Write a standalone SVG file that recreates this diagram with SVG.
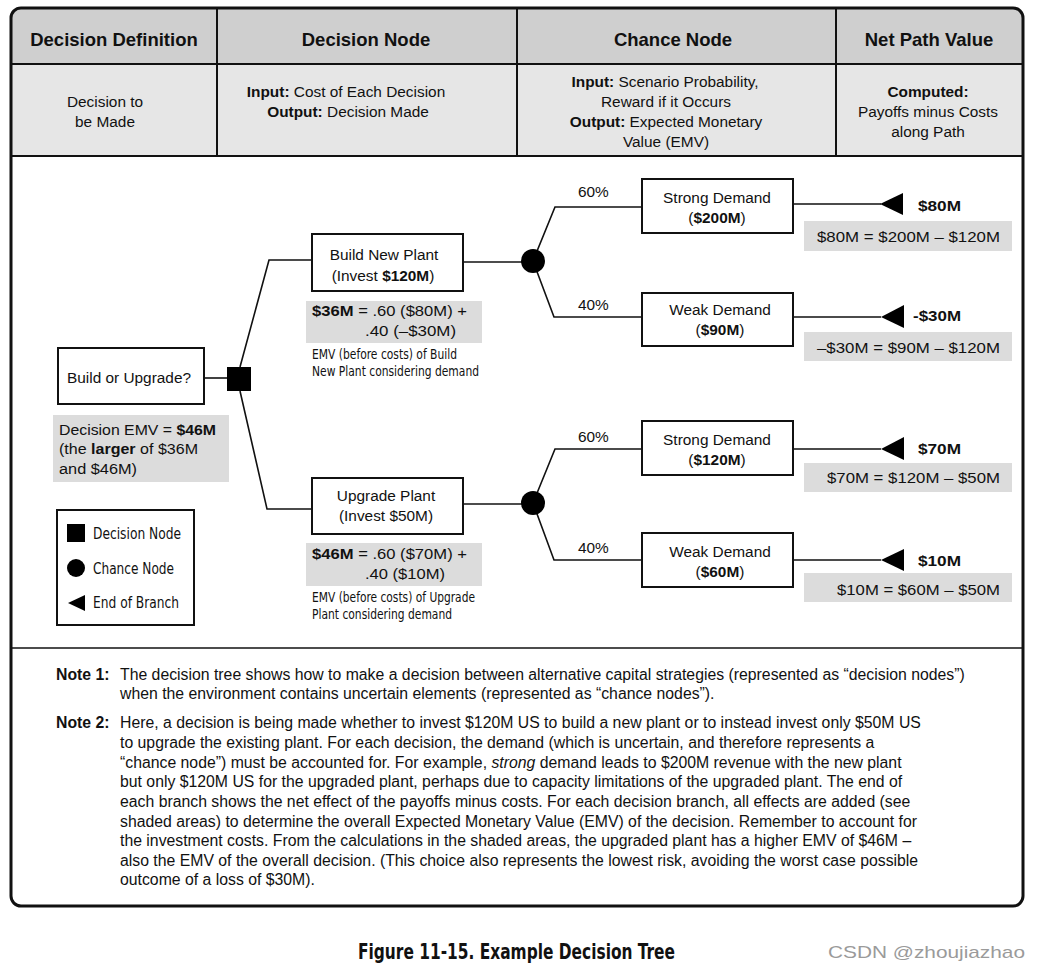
<svg xmlns="http://www.w3.org/2000/svg" width="1041" height="972" viewBox="0 0 1041 972">
<style>
text{font-family:"Liberation Sans",Arial,sans-serif;fill:#111;}
.h{font-size:18.5px;font-weight:bold;text-anchor:middle;}
.s{font-size:15.4px;text-anchor:middle;}
.b{font-weight:bold;}
.t{font-size:15.4px;}
.c{font-family:"Liberation Sans Narrow","DejaVu Sans Condensed","Liberation Sans",sans-serif;font-size:14.5px;}
.lg{font-family:"Liberation Sans Narrow","DejaVu Sans Condensed","Liberation Sans",sans-serif;font-size:16px;}
.box{fill:#fff;stroke:#111;stroke-width:2;}
.gray{fill:#dcdcdc;}
.ln{fill:none;stroke:#111;stroke-width:1.6;}
.n{font-size:15.8px;}
</style>
<rect width="1041" height="972" fill="#fff"/>
<g id="table">
<path d="M11,64 V18 Q11,8 21,8 H1013 Q1023,8 1023,18 V64 Z" fill="#cfcfcf"/>
<rect x="11" y="64" width="1012" height="92" fill="#e6e6e6"/>
<path d="M11,64 H1023 M11,156 H1023 M217,8 V156 M517,8 V156 M836,8 V156" stroke="#111" stroke-width="2" fill="none"/>
<line x1="11" y1="648" x2="1023" y2="648" stroke="#111" stroke-width="1.5"/>
<rect x="11" y="8" width="1012" height="898" rx="10" ry="10" fill="none" stroke="#111" stroke-width="3"/>
<text class="h" x="114" y="46">Decision Definition</text>
<text class="h" x="366" y="46">Decision Node</text>
<text class="h" x="673" y="46">Chance Node</text>
<text class="h" x="929" y="46">Net Path Value</text>
<text class="s" x="105" y="107">Decision to</text>
<text class="s" x="105" y="127">be Made</text>
<text class="s" x="346" y="97"><tspan class="b">Input:</tspan> Cost of Each Decision</text>
<text class="s" x="348" y="117"><tspan class="b">Output:</tspan> Decision Made</text>
<text class="s" x="665" y="87"><tspan class="b">Input:</tspan> Scenario Probability,</text>
<text class="s" x="666" y="107">Reward if it Occurs</text>
<text class="s" x="666" y="127"><tspan class="b">Output:</tspan> Expected Monetary</text>
<text class="s" x="666" y="147">Value (EMV)</text>
<text class="s b" x="928" y="97">Computed:</text>
<text class="s" x="928" y="117">Payoffs minus Costs</text>
<text class="s" x="928" y="137">along Path</text>
</g>
<g id="connectors">
<path class="ln" d="M205,378 H228"/>
<path class="ln" d="M240,367 L269,260 H312"/>
<path class="ln" d="M240,391 L267,509 H312"/>
<path class="ln" d="M463,262 H533"/>
<path class="ln" d="M463,504 H533"/>
<path class="ln" d="M533,261 L555,207 H642 M533,261 L554,317 H642"/>
<path class="ln" d="M533,503 L555,449 H642 M533,503 L554,560 H642"/>
<path class="ln" d="M793,204 H881 M793,317 H881 M793,449 H881 M793,560 H881"/>
<text class="t" x="578" y="197">60%</text>
<text class="t" x="578" y="310">40%</text>
<text class="t" x="578" y="442">60%</text>
<text class="t" x="578" y="553">40%</text>
</g>
<g id="root">
<rect class="box" x="58" y="348" width="146" height="56"/>
<text class="s" x="129" y="383">Build or Upgrade?</text>
</g>
<g id="decision">
<rect x="227" y="367" width="24" height="24" fill="#000"/>
</g>
<g id="decision-emv">
<rect class="gray" x="53" y="415" width="176" height="67"/>
<text class="t" x="59" y="435" textLength="157" lengthAdjust="spacingAndGlyphs">Decision EMV = <tspan class="b">$46M</tspan></text>
<text class="t" x="59" y="454" textLength="139" lengthAdjust="spacingAndGlyphs">(the <tspan class="b">larger</tspan> of $36M</text>
<text class="t" x="59" y="474" textLength="78" lengthAdjust="spacingAndGlyphs">and $46M)</text>
</g>
<g id="build">
<rect class="box" x="312" y="234" width="151" height="57"/>
<text class="s" x="384" y="260">Build New Plant</text>
<text class="s" x="383" y="281">(Invest <tspan class="b">$120M</tspan>)</text>
<rect class="gray" x="306" y="301" width="176" height="42"/>
<text class="t" x="312" y="316" textLength="155" lengthAdjust="spacingAndGlyphs"><tspan class="b">$36M</tspan> = .60 ($80M) +</text>
<text class="t" x="365" y="336" textLength="91" lengthAdjust="spacingAndGlyphs">.40 (–$30M)</text>
<text class="c" x="312" y="359" textLength="145" lengthAdjust="spacingAndGlyphs">EMV (before costs) of Build</text>
<text class="c" x="312" y="376" textLength="167" lengthAdjust="spacingAndGlyphs">New Plant considering demand</text>
</g>
<g id="upgrade">
<rect class="box" x="312" y="478" width="151" height="56"/>
<text class="s" x="386" y="501">Upgrade Plant</text>
<text class="s" x="386" y="521">(Invest $50M)</text>
<rect class="gray" x="306" y="543" width="176" height="43"/>
<text class="t" x="312" y="559" textLength="155" lengthAdjust="spacingAndGlyphs"><tspan class="b">$46M</tspan> = .60 ($70M) +</text>
<text class="t" x="365" y="579" textLength="80" lengthAdjust="spacingAndGlyphs">.40 ($10M)</text>
<text class="c" x="312" y="602" textLength="163" lengthAdjust="spacingAndGlyphs">EMV (before costs) of Upgrade</text>
<text class="c" x="312" y="619" textLength="140" lengthAdjust="spacingAndGlyphs">Plant considering demand</text>
</g>
<g id="chance1"><circle cx="533" cy="261" r="12" fill="#000"/></g>
<g id="chance2"><circle cx="533" cy="503" r="12" fill="#000"/></g>
<g id="strong1">
<rect class="box" x="642" y="179" width="151" height="54"/>
<text class="s" x="717" y="203">Strong Demand</text>
<text class="s" x="717" y="223">(<tspan class="b">$200M</tspan>)</text>
</g>
<g id="weak1">
<rect class="box" x="642" y="293" width="151" height="53"/>
<text class="s" x="720" y="315">Weak Demand</text>
<text class="s" x="720" y="335">(<tspan class="b">$90M</tspan>)</text>
</g>
<g id="strong2">
<rect class="box" x="642" y="421" width="151" height="54"/>
<text class="s" x="717" y="445">Strong Demand</text>
<text class="s" x="717" y="465">(<tspan class="b">$120M</tspan>)</text>
</g>
<g id="weak2">
<rect class="box" x="642" y="533" width="151" height="54"/>
<text class="s" x="720" y="557">Weak Demand</text>
<text class="s" x="720" y="577">(<tspan class="b">$60M</tspan>)</text>
</g>
<g id="end1">
<polygon points="880,204 903,193 903,215" fill="#000"/>
<text class="t b" x="918" y="211" textLength="43" lengthAdjust="spacingAndGlyphs">$80M</text>
<rect class="gray" x="804" y="221" width="208" height="30"/>
<text class="t" x="817" y="242" textLength="183" lengthAdjust="spacingAndGlyphs">$80M = $200M – $120M</text>
</g>
<g id="end2">
<polygon points="881,317 904,305 904,328" fill="#000"/>
<text class="t b" x="913" y="321" textLength="48" lengthAdjust="spacingAndGlyphs">-$30M</text>
<rect class="gray" x="804" y="332" width="208" height="29"/>
<text class="t" x="817" y="353" textLength="183" lengthAdjust="spacingAndGlyphs">–$30M = $90M – $120M</text>
</g>
<g id="end3">
<polygon points="881,449 904,437 904,460" fill="#000"/>
<text class="t b" x="918" y="454" textLength="43" lengthAdjust="spacingAndGlyphs">$70M</text>
<rect class="gray" x="804" y="463" width="208" height="29"/>
<text class="t" x="827" y="483" textLength="173" lengthAdjust="spacingAndGlyphs">$70M = $120M – $50M</text>
</g>
<g id="end4">
<polygon points="881,560 904,549 904,571" fill="#000"/>
<text class="t b" x="918" y="566" textLength="43" lengthAdjust="spacingAndGlyphs">$10M</text>
<rect class="gray" x="804" y="573" width="208" height="29"/>
<text class="t" x="837" y="595" textLength="163" lengthAdjust="spacingAndGlyphs">$10M = $60M – $50M</text>
</g>
<g id="legend">
<rect class="box" x="57" y="510" width="137" height="115"/>
<rect x="67" y="524" width="18" height="18" fill="#000"/>
<text class="lg" x="93" y="539" textLength="88" lengthAdjust="spacingAndGlyphs">Decision Node</text>
<circle cx="76" cy="568" r="9" fill="#000"/>
<text class="lg" x="93" y="574" textLength="81" lengthAdjust="spacingAndGlyphs">Chance Node</text>
<polygon points="68,603 85,595 85,611" fill="#000"/>
<text class="lg" x="93" y="608" textLength="86" lengthAdjust="spacingAndGlyphs">End of Branch</text>
</g>
<g id="notes">
<text class="n b" x="56" y="680">Note 1:</text>
<text class="n" x="120" y="680">The decision tree shows how to make a decision between alternative capital strategies (represented as “decision nodes”)</text>
<text class="n" x="120" y="699">when the environment contains uncertain elements (represented as “chance nodes”).</text>
<text class="n b" x="56" y="728">Note 2:</text>
<text class="n" x="120" y="728">Here, a decision is being made whether to invest $120M US to build a new plant or to instead invest only $50M US</text>
<text class="n" x="120" y="748">to upgrade the existing plant. For each decision, the demand (which is uncertain, and therefore represents a</text>
<text class="n" x="120" y="768">“chance node”) must be accounted for. For example, <tspan font-style="italic">strong</tspan> demand leads to $200M revenue with the new plant</text>
<text class="n" x="120" y="787">but only $120M US for the upgraded plant, perhaps due to capacity limitations of the upgraded plant. The end of</text>
<text class="n" x="120" y="807">each branch shows the net effect of the payoffs minus costs. For each decision branch, all effects are added (see</text>
<text class="n" x="120" y="827">shaded areas) to determine the overall Expected Monetary Value (EMV) of the decision. Remember to account for</text>
<text class="n" x="120" y="846">the investment costs. From the calculations in the shaded areas, the upgraded plant has a higher EMV of $46M –</text>
<text class="n" x="120" y="866">also the EMV of the overall decision. (This choice also represents the lowest risk, avoiding the worst case possible</text>
<text class="n" x="120" y="885">outcome of a loss of $30M).</text>
</g>
<g id="caption">
<text x="358" y="959" font-size="21px" font-weight="bold" textLength="317" lengthAdjust="spacingAndGlyphs" style="font-family:'Liberation Sans Narrow','DejaVu Sans Condensed','Liberation Sans',sans-serif">Figure 11-15. Example Decision Tree</text>
<text x="828" y="958" font-size="17px" textLength="197" lengthAdjust="spacingAndGlyphs" style="fill:#9a9a9a">CSDN @zhoujiazhao</text>
</g>
</svg>
